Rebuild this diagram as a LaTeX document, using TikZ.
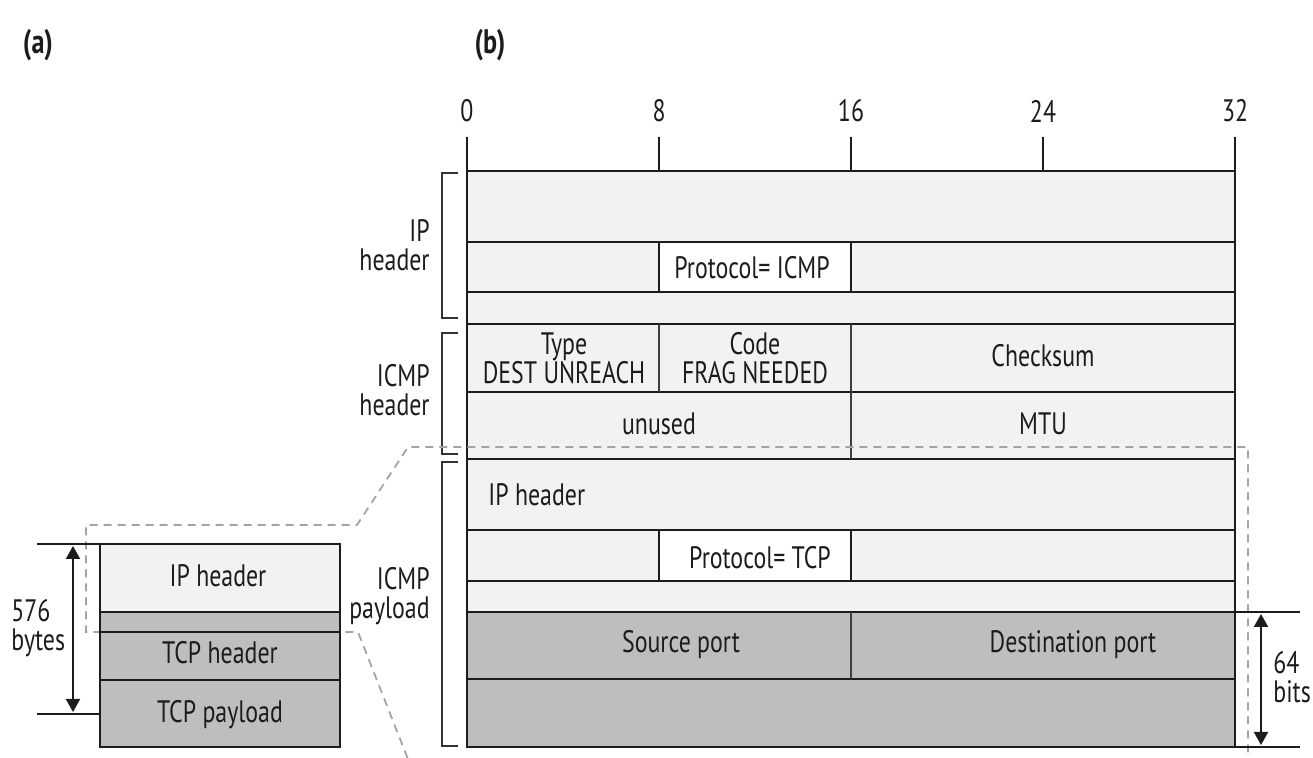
\documentclass[tikz,border=0pt]{standalone}
\usepackage{fontspec}
\setmainfont{PT Sans}[FakeStretch=0.77]
\usetikzlibrary{arrows.meta,positioning,calc}
\definecolor{rowlight}{HTML}{F2F2F2}
\definecolor{rowdark}{HTML}{BEBEBE}
\definecolor{ruleblack}{HTML}{1C1C1C}
\definecolor{zoomgray}{HTML}{A3A3A3}

\begin{document}
\begin{tikzpicture}[
  x=0.5pt, y=-0.5pt,
  every node/.style={inner sep=0pt, text=ruleblack,
    font=\fontsize{15.5}{14.5}\selectfont},
  lightrow/.style={fill=rowlight, draw=ruleblack, line width=1.3pt},
  darkrow/.style={fill=rowdark, draw=ruleblack, line width=1.3pt},
  whitebox/.style={fill=white, draw=ruleblack, line width=1.3pt},
  ruler/.style={draw=ruleblack, line width=1.3pt},
  divider/.style={draw=ruleblack!85, line width=1.3pt},
  zoomline/.style={draw=zoomgray, line width=0.9pt, dash pattern=on 4pt off 3pt},
  bracket/.style={draw=ruleblack!90, line width=1pt},
  fieldtext/.style={align=center},
  sidelabel/.style={align=right, anchor=east},
  dimlabel/.style={align=left, anchor=west},
  panel/.style={font=\fontsize{17}{17}\selectfont\bfseries},
  dimarrow/.style={{Triangle[length=6.5pt,width=7pt]}-{Triangle[length=6.5pt,width=7pt]},
    draw=ruleblack, line width=1pt}
]
\useasboundingbox (0,0) rectangle (1313,758);

% Panel labels
\node[panel] (panelA) at (38,45) {(a)};
\node[panel] (panelB) at (490,45) {(b)};

% Bit ruler
\foreach \b in {0,8,16,24,32}
  \node (bit\b) at ({467+24*\b},111) {\b};
\foreach \b in {8,16,24}
  \draw[ruler] ({467+24*\b},137) -- ({467+24*\b},171);

% Rows of the packet (b)
\foreach \t/\u/\s in {171/242/lightrow, 242/292/lightrow, 292/324/lightrow,
                      324/392/lightrow, 392/459/lightrow,
                      459/530/lightrow, 530/581/lightrow, 581/612/lightrow,
                      612/679/darkrow, 679/747/darkrow}
  \path[\s] (467,\t) rectangle (1235,\u);
\path[whitebox] (659,242) rectangle (851,292);
\path[whitebox] (659,530) rectangle (851,581);
\draw[divider] (659,324) -- (659,392);
\draw[divider] (851,324) -- (851,459);
\draw[divider] (851,612) -- (851,679);
\draw[ruler] (467,137) -- (467,747);
\draw[ruler] (1235,137) -- (1235,747);

% Field texts
\node[fieldtext] (protoicmp) at (752,268) {Protocol= ICMP};
\node[fieldtext] (type) at (564,358) {Type\\DEST UNREACH};
\node[fieldtext] (code) at (755,358) {Code\\FRAG NEEDED};
\node[fieldtext] (checksum) at (1043,356) {Checksum};
\node[fieldtext] (unused) at (659,424) {unused};
\node[fieldtext] (mtu) at (1043,424) {MTU};
\node[anchor=west] (innerip) at (488,495) {IP header};
\node[fieldtext] (prototcp) at (760,558) {Protocol= TCP};
\node[fieldtext] (srcport) at (681,645) {Source port};
\node[fieldtext] (dstport) at (1073,645) {Destination port};

% Brackets and their labels
\draw[bracket] (458,173) -| (442,318) -- (458,318);
\draw[bracket] (458,333) -| (442,454) -- (458,454);
\draw[bracket] (458,462) -| (442,746) -- (458,746);
\node[sidelabel] (iphdr) at (430,245) {IP\\header};
\node[sidelabel] (icmphdr) at (430,390) {ICMP\\header};
\node[sidelabel] (icmppay) at (430,596) {ICMP\\payload};

% Zoom outline
\draw[zoomline] (407.5,758) -- (358,632) -- (86,632) -- (86,525) -- (357,525)
  -- (408,447) -- (1248,447) -- (1248,758);

% 64 bits dimension
\draw[ruler] (1235,612) -- (1300,612);
\draw[ruler] (1235,747) -- (1300,747);
\coordinate (bitstop) at (1261,614);
\coordinate (bitsbot) at (1261,745);
\draw[dimarrow] (bitstop) -- (bitsbot);
\node[dimlabel] (bitslabel) at (1273,677) {64\\bits};

% Packet (a)
\path[lightrow] (100,544) rectangle (340,612);
\path[darkrow] (100,612) rectangle (340,632);
\path[darkrow] (100,632) rectangle (340,680);
\path[darkrow] (100,680) rectangle (340,747);
\node[fieldtext] (aip) at (218,576) {IP header};
\node[fieldtext] (atcphdr) at (220,653) {TCP header};
\node[fieldtext] (atcppay) at (220,715) {TCP payload};

% 576 bytes dimension
\draw[ruler] (37,544) -- (100,544);
\draw[ruler] (37,714) -- (100,714);
\coordinate (bytestop) at (73,546);
\coordinate (bytesbot) at (73,712);
\draw[dimarrow] (bytestop) -- (bytesbot);
\node[dimlabel] (byteslabel) at (11,628) {576\\bytes};

\end{tikzpicture}
\end{document}
